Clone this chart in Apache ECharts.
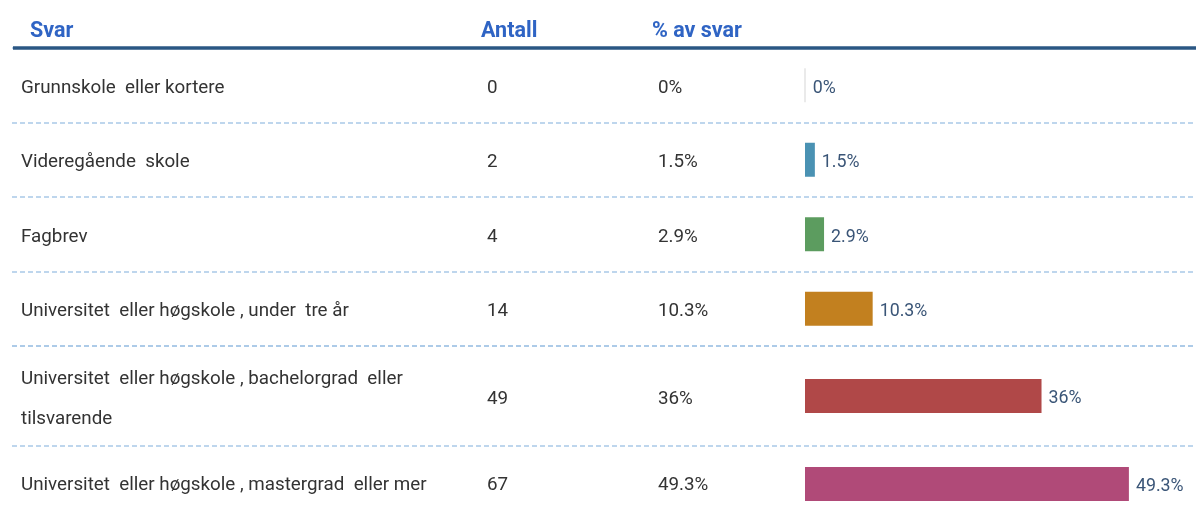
<!DOCTYPE html>
<html>
<head>
<meta charset="utf-8">
<script src="https://cdn.jsdelivr.net/npm/echarts@6/dist/echarts.min.js"></script>
<style>
html,body{margin:0;padding:0;background:#fff;}
#chart{width:1196px;height:512px;}
</style>
</head>
<body>
<div id="chart"></div>
<script>
// ---- data ----
const headers = ['Svar', 'Antall', '% av svar'];
const categories = [
  'Grunnskole  eller kortere',
  'Videregående  skole',
  'Fagbrev',
  'Universitet  eller høgskole , under  tre år',
  'Universitet  eller høgskole , bachelorgrad  eller\ntilsvarende',
  'Universitet  eller høgskole , mastergrad  eller mer'
];
const counts = [0, 2, 4, 14, 49, 67];
const percents = [0, 1.5, 2.9, 10.3, 36, 49.3];

// ---- styles / layout ----
const barColors = ['#e4e4e4', '#4a92b3', '#5c9c5f', '#c2801f', '#b04848', '#b04a78'];
const rowGroups = [
  { from: 0, to: 4, top: 48, height: 298, split: true },
  { from: 4, to: 5, top: 346, height: 100, split: true },
  { from: 5, to: 6, top: 456, height: 56, split: false }
];
const labelShift = 3;
const gridLeft = 12, barZeroX = 805, pxPerUnit = 6.57, chartW = 1196;
const xMin = -(barZeroX - gridLeft) / pxPerUnit;
const xMax = (chartW - barZeroX) / pxPerUnit;
const fmtPct = v => String(v) + '%';
const textStyle = { color: '#333333', fontSize: 18.8, fontFamily: 'Roboto' };

const grid = [], xAxis = [], yAxis = [], series = [];
rowGroups.forEach((g) => {
  const cats = categories.slice(g.from, g.to);
  // bar grid
  const bi = grid.length;
  grid.push({ left: gridLeft, right: 0, top: g.top, height: g.height });
  xAxis.push({ gridIndex: bi, type: 'value', min: xMin, max: xMax, show: false });
  const byi = yAxis.length;
  yAxis.push({
    gridIndex: bi, type: 'category', data: cats, inverse: true,
    axisLine: { show: false }, axisTick: { show: false }, axisLabel: { show: false },
    splitLine: { show: g.split, interval: 0, lineStyle: { color: '#a9c9e8', type: [5, 3], width: 1.5 } }
  });
  series.push({
    type: 'bar', xAxisIndex: bi, yAxisIndex: byi, barWidth: 34,
    data: percents.slice(g.from, g.to).map((v, i) => {
      const idx = g.from + i;
      const item = { value: v, itemStyle: { color: barColors[idx] } };
      if (v === 0) item.itemStyle = { color: barColors[idx], borderColor: barColors[idx], borderWidth: 1.5 };
      return item;
    }),
    label: {
      show: true, position: 'right', distance: 7, color: '#3a5577', fontSize: 17.8,
      fontFamily: 'Roboto', offset: [0, labelShift], formatter: p => fmtPct(p.value)
    },
    silent: true, animation: false
  });
  // text grid
  const ti = grid.length;
  grid.push({ left: gridLeft, right: 0, top: g.top + labelShift, height: g.height });
  xAxis.push({ gridIndex: ti, type: 'value', min: xMin, max: xMax, show: false });
  const columns = [
    { margin: 9, fmt: (v) => v },
    { margin: 475, fmt: (v, i) => String(counts[g.from + i]) },
    { margin: 646, fmt: (v, i) => fmtPct(percents[g.from + i]) }
  ];
  columns.forEach(c => {
    yAxis.push({
      gridIndex: ti, type: 'category', data: cats, inverse: true, position: 'left',
      axisLine: { show: false }, axisTick: { show: false }, splitLine: { show: false },
      axisLabel: Object.assign({
        inside: true, margin: c.margin, align: 'left', interval: 0,
        lineHeight: 40, formatter: c.fmt
      }, textStyle)
    });
  });
});

const headerX = [30, 481, 652];
const graphic = headers.map((h, i) => ({
  type: 'text', z: 10, x: headerX[i], y: 32,
  style: { text: h, fill: '#2f64c4', font: 'bold 21.5px Roboto', verticalAlign: 'middle' }
}));
graphic.push({
  type: 'line', z: 10,
  shape: { x1: 13, y1: 48, x2: 1196, y2: 48 },
  style: { stroke: '#2b5784', lineWidth: 3.5 }
});

const chart = echarts.init(document.getElementById('chart'));
chart.setOption({ animation: false, grid, xAxis, yAxis, series, graphic });
</script>
</body>
</html>
